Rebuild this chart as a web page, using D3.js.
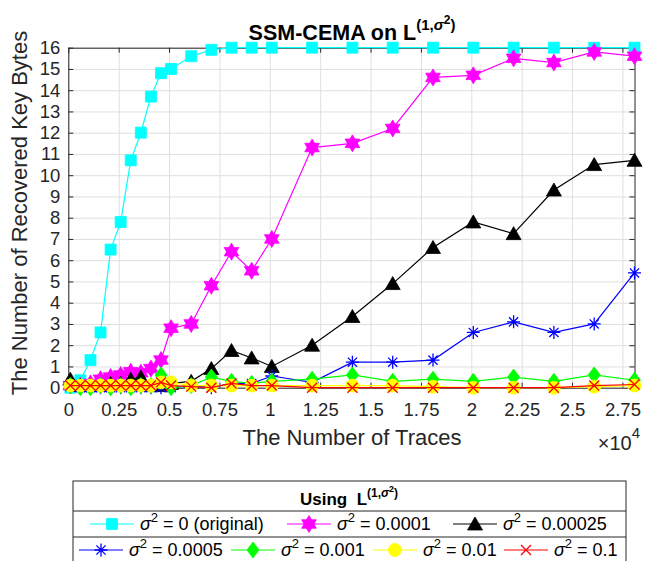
<!DOCTYPE html>
<html>
<head>
<meta charset="utf-8">
<script src="https://cdn.jsdelivr.net/npm/d3@7"></script>
<style>
  body { margin: 0; background: #fff; }
  text { font-family: "Liberation Sans", Arial, Helvetica, sans-serif; }
</style>
</head>
<body>
<div id="chart"></div>
<script>
// Number of traces on the x axis
var traces = [100, 600, 1100, 1600, 2100, 2600, 3100, 3600, 4100, 4600, 5100, 6100, 7100,
    8100, 9100, 10100, 12100, 14100, 16100, 18100, 20100, 22100, 24100, 26100, 28100];

// Recovered key bytes for each noise variance
var sigma0 = [0, 0.35, 1.3, 2.6, 6.5, 7.8, 10.7, 12.0, 13.7, 14.8, 15.0, 15.6, 15.9,
    16, 16, 16, 16, 16, 16, 16, 16, 16, 16, 16, 16];
var sigma00001 = [0.1, 0.1, 0.2, 0.4, 0.5, 0.6, 0.75, 0.7, 0.9, 1.3, 2.8, 3.0, 4.8,
    6.4, 5.5, 7.0, 11.3, 11.5, 12.2, 14.6, 14.7, 15.5, 15.3, 15.8, 15.6];
var sigma000025 = [0.4, 0.1, 0.1, 0.1, 0.2, 0.2, 0.4, 0.5, 0.1, 0.1, 0.2, 0.3, 0.9,
    1.75, 1.4, 1.0, 2.0, 3.35, 4.9, 6.6, 7.8, 7.25, 9.3, 10.5, 10.7];
var sigma00005 = [0.05, 0, 0, 0, 0, 0, 0, 0, 0, 0, 0, 0.1, 0,
    0.2, 0.2, 0.55, 0.25, 1.2, 1.2, 1.3, 2.6, 3.1, 2.6, 3.0, 5.4];
var sigma0001 = [0.1, 0, 0, 0.1, 0, 0.1, 0, 0.1, 0.1, 0.6, 0, 0.1, 0.5,
    0.3, 0.2, 0.3, 0.4, 0.6, 0.3, 0.4, 0.3, 0.5, 0.3, 0.6, 0.35];
var sigma001 = [0.1, 0.1, 0.1, 0.1, 0.1, 0.1, 0.1, 0.1, 0.1, 0.25, 0.25, 0.1, 0.1,
    0.1, 0.1, 0.1, 0.1, 0.1, 0.1, 0.05, 0, 0, 0, 0.05, 0.1];
var sigma01 = [0.1, 0.1, 0.1, 0.1, 0.1, 0.1, 0.1, 0.1, 0.1, 0.25, 0.1, 0.05, 0,
    0.2, 0.1, 0.1, 0, 0, 0, 0, 0, 0, 0, 0.1, 0.15];

// Legend labels (value of sigma^2)
var seriesLabels = ["0 (original)", "0.0001", "0.00025", "0.0005", "0.001", "0.01", "0.1"];

// Tick labels
var xTicks = [0, 2500, 5000, 7500, 10000, 12500, 15000, 17500, 20000, 22500, 25000, 27500];
var xTickLabels = ["0", "0.25", "0.5", "0.75", "1", "1.25", "1.5", "1.75", "2", "2.25", "2.5", "2.75"];
var yTicks = [0, 1, 2, 3, 4, 5, 6, 7, 8, 9, 10, 11, 12, 13, 14, 15, 16];

var series = [
    { values: sigma0, color: "#00ffff", marker: "square" },
    { values: sigma00001, color: "#ff00ff", marker: "hexagram" },
    { values: sigma000025, color: "#000000", marker: "triangle" },
    { values: sigma00005, color: "#0000ff", marker: "asterisk" },
    { values: sigma0001, color: "#00ff00", marker: "diamond" },
    { values: sigma001, color: "#ffff00", marker: "circle" },
    { values: sigma01, color: "#ff0000", marker: "cross" }
];
series.forEach(function(s, i) { s.label = seriesLabels[i]; });

var svgWidth = 652;
var svgHeight = 561;
var margin = { top: 47.7, right: 17.5, bottom: 173.3, left: 68.3 };
var width = svgWidth - margin.left - margin.right;
var height = svgHeight - margin.top - margin.bottom;
var axisColor = "#262626";

var svg = d3.select("#chart").append("svg")
    .attr("width", svgWidth)
    .attr("height", svgHeight);

var chartGroup = svg.append("g")
    .attr("transform", `translate(${margin.left}, ${margin.top})`);

var xScale = d3.scaleLinear().domain([0, 28100]).range([0, width]);
var yScale = d3.scaleLinear().domain([0, 16]).range([height, 0]);

// Grid lines
chartGroup.append("g")
    .attr("class", "grid")
    .attr("transform", `translate(0, ${height})`)
    .call(d3.axisBottom(xScale).tickValues(xTicks).tickSize(-height).tickFormat(""));
chartGroup.append("g")
    .attr("class", "grid")
    .call(d3.axisLeft(yScale).tickValues(yTicks).tickSize(-width).tickFormat(""));
chartGroup.selectAll(".grid line").attr("stroke", "#dfdfdf").attr("stroke-width", 1);
chartGroup.selectAll(".grid .domain").remove();

// Axes with inward ticks
var xAxis = d3.axisBottom(xScale).tickValues(xTicks)
    .tickFormat(function(d, i) { return xTickLabels[i]; })
    .tickSizeInner(-5).tickSizeOuter(0).tickPadding(15);
var yAxis = d3.axisLeft(yScale).tickValues(yTicks)
    .tickSizeInner(-5).tickSizeOuter(0).tickPadding(8);

chartGroup.append("g")
    .attr("class", "axis")
    .attr("transform", `translate(0, ${height})`)
    .call(xAxis);
chartGroup.append("g")
    .attr("class", "axis")
    .call(yAxis);
chartGroup.append("g")
    .attr("class", "axis")
    .call(d3.axisTop(xScale).tickValues(xTicks).tickSizeInner(-5).tickSizeOuter(0).tickFormat(""));
chartGroup.append("g")
    .attr("class", "axis")
    .attr("transform", `translate(${width}, 0)`)
    .call(d3.axisRight(yScale).tickValues(yTicks).tickSizeInner(-5).tickSizeOuter(0).tickFormat(""));

chartGroup.selectAll(".axis line").attr("stroke", axisColor);
chartGroup.selectAll(".axis .domain").attr("stroke", axisColor);
chartGroup.selectAll(".axis text")
    .attr("fill", axisColor)
    .style("font-size", "18.5px");

// Marker shapes
function markerPath(type) {
    if (type == "square") return "M-5.5,-5.5h11v11h-11z";
    if (type == "triangle") return "M0,-7L7.5,6L-7.5,6Z";
    if (type == "diamond") return "M0,-8L6,0L0,8L-6,0Z";
    if (type == "hexagram") {
        var r = 8.5, p = "";
        [[-90, 30, 150], [90, 210, 330]].forEach(function(tri) {
            p += tri.map(function(a, j) {
                var t = a * Math.PI / 180;
                return (j == 0 ? "M" : "L") + (r * Math.cos(t)).toFixed(2) + "," + (r * Math.sin(t)).toFixed(2);
            }).join("") + "Z";
        });
        return p;
    }
    if (type == "asterisk") {
        var r2 = 6.5, q = "";
        [90, 45, 0, -45].forEach(function(a) {
            var t = a * Math.PI / 180;
            var dx = r2 * Math.cos(t), dy = r2 * Math.sin(t);
            q += "M" + dx.toFixed(2) + "," + dy.toFixed(2) + "L" + (-dx).toFixed(2) + "," + (-dy).toFixed(2);
        });
        return q;
    }
    if (type == "cross") return "M-5,-5L5,5M5,-5L-5,5";
    if (type == "circle") return d3.symbol(d3.symbolCircle, Math.PI * 6.5 * 6.5)();
    return "";
}

function drawMarker(sel, s) {
    var lineOnly = s.marker == "asterisk" || s.marker == "cross";
    sel.append("path")
        .attr("d", markerPath(s.marker))
        .attr("fill", lineOnly ? "none" : s.color)
        .attr("stroke", s.color)
        .attr("stroke-width", lineOnly ? 1.3 : 0.8);
}

var line = d3.line()
    .x(function(d) { return xScale(d[0]); })
    .y(function(d) { return yScale(d[1]); });

// Lines and markers for each series
series.forEach(function(s) {
    var pts = traces.map(function(t, i) { return [t, s.values[i]]; });
    var g = chartGroup.append("g");
    g.append("path")
        .datum(pts)
        .attr("d", line)
        .attr("fill", "none")
        .attr("stroke", s.color)
        .attr("stroke-width", 1.2);
    g.selectAll(".mk")
        .data(pts)
        .enter()
        .append("g")
        .attr("transform", function(d) { return `translate(${xScale(d[0])}, ${yScale(d[1])})`; })
        .each(function() { drawMarker(d3.select(this), s); });
});

// Title
var title = svg.append("text")
    .attr("x", 352)
    .attr("y", 40)
    .attr("text-anchor", "middle")
    .attr("fill", "#000")
    .style("font-size", "21.5px")
    .style("font-weight", "bold");
title.append("tspan").text("SSM-CEMA on L");
title.append("tspan").attr("dy", -10).style("font-size", "15px").text("(1,");
title.append("tspan").style("font-size", "15px").style("font-style", "italic").text("σ");
title.append("tspan").attr("dy", -6).style("font-size", "12px").text("2");
title.append("tspan").attr("dy", 6).style("font-size", "15px").text(")");

// Axis labels
svg.append("text")
    .attr("transform", "translate(27, 213) rotate(-90)")
    .attr("text-anchor", "middle")
    .attr("fill", axisColor)
    .style("font-size", "22px")
    .text("The Number of Recovered Key Bytes");

svg.append("text")
    .attr("x", 352)
    .attr("y", 445)
    .attr("text-anchor", "middle")
    .attr("fill", axisColor)
    .style("font-size", "22px")
    .text("The Number of Traces");

var expo = svg.append("text")
    .attr("x", 640)
    .attr("y", 450)
    .attr("text-anchor", "end")
    .attr("fill", axisColor)
    .style("font-size", "20px");
expo.append("tspan").text("×10");
expo.append("tspan").attr("dy", -12).style("font-size", "15px").text("4");

// Legend
var legend = svg.append("g");
var lgLeft = 73, lgRight = 626, lgTop = 481;
var sep1 = 511, sep2 = 537, lgBottom = 570;
legend.append("rect")
    .attr("x", lgLeft).attr("y", lgTop)
    .attr("width", lgRight - lgLeft).attr("height", lgBottom - lgTop)
    .attr("fill", "#fff").attr("stroke", axisColor).attr("stroke-width", 1);
[sep1, sep2].forEach(function(y) {
    legend.append("line")
        .attr("x1", lgLeft).attr("x2", lgRight).attr("y1", y).attr("y2", y)
        .attr("stroke", axisColor);
});

var lgTitle = legend.append("text")
    .attr("x", 349)
    .attr("y", 505)
    .attr("text-anchor", "middle")
    .attr("fill", "#000")
    .style("font-size", "17px")
    .style("font-weight", "bold")
    .attr("xml:space", "preserve");
lgTitle.append("tspan").text("Using  L");
lgTitle.append("tspan").attr("dy", -8).style("font-size", "12px").text("(1,");
lgTitle.append("tspan").style("font-size", "12px").style("font-style", "italic").text("σ");
lgTitle.append("tspan").attr("dy", -5).style("font-size", "9px").text("2");
lgTitle.append("tspan").attr("dy", 5).style("font-size", "12px").text(")");

var entryX = [90, 287, 453, 79, 231, 373, 504];
var entryY = [530, 530, 530, 556, 556, 556, 556];
series.forEach(function(s, i) {
    var g = legend.append("g").attr("transform", `translate(${entryX[i]}, ${entryY[i]})`);
    g.append("line")
        .attr("x1", 0).attr("x2", 44).attr("y1", -6).attr("y2", -6)
        .attr("stroke", s.color).attr("stroke-width", 1.2);
    var m = g.append("g").attr("transform", "translate(22, -6)");
    drawMarker(m, s);
    var t = g.append("text")
        .attr("x", 50)
        .attr("y", 0)
        .attr("fill", "#000")
        .style("font-size", "18px");
    t.append("tspan").style("font-style", "italic").text("σ");
    t.append("tspan").attr("dy", -8).style("font-size", "13px").text("2");
    t.append("tspan").attr("dy", 8).text(" = " + s.label);
});
</script>
</body>
</html>
